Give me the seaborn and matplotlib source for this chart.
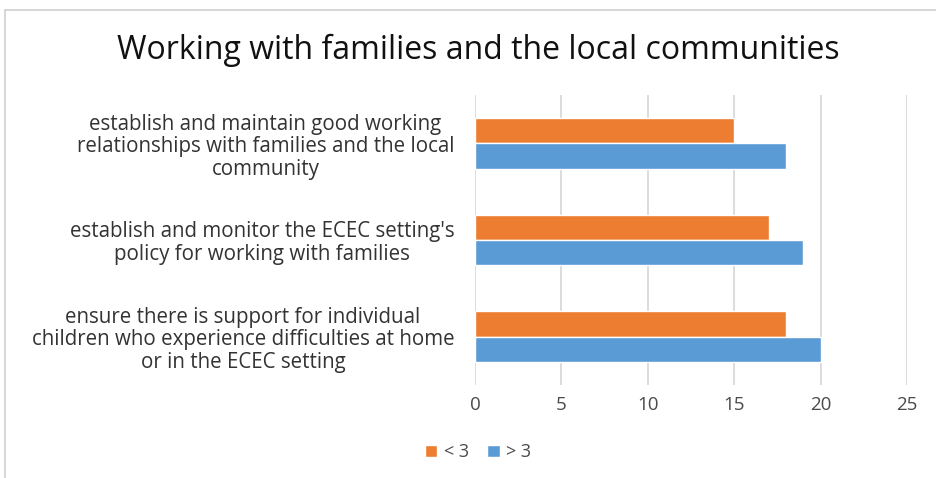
import matplotlib
matplotlib.use("Agg")
import matplotlib.pyplot as plt
import seaborn as sns
import pandas as pd
from matplotlib.patches import Rectangle

categories = [
    "establish and maintain good working\nrelationships with families and the local\ncommunity",
    "establish and monitor the ECEC setting's\npolicy for working with families",
    "ensure there is support for individual\nchildren who experience difficulties at home\nor in the ECEC setting",
]
series_names = ["< 3", "> 3"]
values_lt3 = [15, 17, 18]
values_gt3 = [18, 19, 20]
x_ticks = [0, 5, 10, 15, 20, 25]

colors = ["#ED7D31", "#5B9BD5"]
text_gray = "#4A4A4A"

df = pd.DataFrame({
    "category": categories * 2,
    "group": [series_names[0]] * 3 + [series_names[1]] * 3,
    "value": values_lt3 + values_gt3,
})

sns.set_theme(style="white")
plt.rcParams["font.family"] = ["Open Sans", "DejaVu Sans"]

fig = plt.figure(figsize=(9.37, 4.78), dpi=100)
ax = fig.add_axes([0.507, 0.195, 0.461, 0.606])

sns.barplot(data=df, y="category", x="value", hue="group", order=categories,
            hue_order=series_names, palette=colors, orient="h", width=0.52,
            saturation=1, ax=ax, legend=True)

ax.set_xlim(0, 25)
ax.set_xticks(x_ticks)
ax.set_xlabel("")
ax.set_ylabel("")
ax.grid(axis="x", color="#D9D9D9", linewidth=1.3)
ax.set_axisbelow(True)
for s in ax.spines.values():
    s.set_visible(False)
ax.tick_params(axis="x", colors=text_gray, labelsize=13.5, length=0, pad=8)
ax.tick_params(axis="y", colors=text_gray, labelsize=14.8, length=0, pad=15)
for lbl in ax.get_yticklabels():
    lbl.set_multialignment("center")
    lbl.set_linespacing(1.1)
    lbl.set_color("#333333")

handles, labels = ax.get_legend_handles_labels()
ax.get_legend().remove()
fig.legend(handles, labels, loc="center", bbox_to_anchor=(0.51, 0.054), ncol=2,
           frameon=False, fontsize=13, handlelength=0.7, handleheight=0.7,
           handletextpad=0.35, columnspacing=1.0, labelcolor=text_gray)

fig.suptitle("Working with families and the local communities", x=0.51, y=0.93,
             fontsize=23, color="#111111")

# light chart frame
fig.add_artist(Rectangle((0.005, -0.05), 1.2, 1.03, transform=fig.transFigure,
                         fill=False, edgecolor="#D0D0D0", linewidth=1.2))

fig.savefig("out.png", dpi=100)
